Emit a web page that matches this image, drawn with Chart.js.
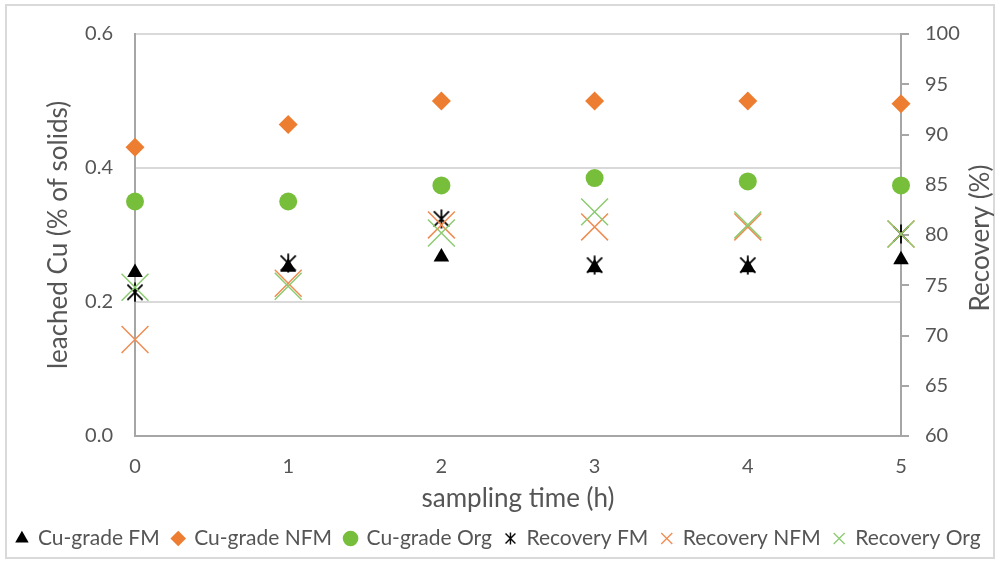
<!DOCTYPE html>
<html>
<head>
<meta charset="utf-8">
<script src="https://cdn.jsdelivr.net/npm/chart.js@4.4.1/dist/chart.umd.min.js"></script>
<style>
  html, body { margin: 0; padding: 0; background: #ffffff; }
  #wrap { position: relative; width: 997px; height: 563px; }
  canvas { display: block; }
</style>
</head>
<body>
<div id="wrap"><canvas id="c" width="997" height="563"></canvas></div>
<script>
// ---- data ----
const timeH = [0, 1, 2, 3, 4, 5];
const cuGradeFM  = [0.244, 0.252, 0.267, 0.251, 0.251, 0.263];
const cuGradeNFM = [0.431, 0.465, 0.500, 0.500, 0.500, 0.496];
const cuGradeOrg = [0.350, 0.350, 0.374, 0.385, 0.380, 0.374];
const recoveryFM  = [74.3, 77.2, 81.6, 77.0, 77.0, 80.1];
const recoveryNFM = [69.6, 75.2, 81.0, 80.8, 80.8, 80.1];
const recoveryOrg = [74.8, 74.9, 80.2, 82.3, 81.0, 80.1];
const seriesNames = ['Cu-grade FM', 'Cu-grade NFM', 'Cu-grade Org', 'Recovery FM', 'Recovery NFM', 'Recovery Org'];
const leftTicks = [0.0, 0.2, 0.4, 0.6];
const rightTicks = [60, 65, 70, 75, 80, 85, 90, 95, 100];
const xTitle = 'sampling time (h)';
const yLeftTitle = 'leached Cu (% of solids)';
const yRightTitle = 'Recovery (%)';

const FONT = 'Lato, "Open Sans", sans-serif';
const TXT = '#555555';

function toPts(vals) { return vals.map((v, i) => ({ x: timeH[i], y: v })); }

function asteriskCanvas(size, lw) {
  const cv = document.createElement('canvas');
  cv.width = size; cv.height = size;
  const g = cv.getContext('2d');
  g.strokeStyle = '#000'; g.lineWidth = lw; g.lineCap = 'butt';
  const m = size * 0.12, c = size / 2;
  g.beginPath();
  g.moveTo(m, m); g.lineTo(size - m, size - m);
  g.moveTo(size - m, m); g.lineTo(m, size - m);
  g.moveTo(c, 0.5); g.lineTo(c, size - 0.5);
  g.stroke();
  return cv;
}
const starBig = asteriskCanvas(20, 1.8);
const starSmall = asteriskCanvas(13, 1.4);

const frame = {
  id: 'frame',
  beforeDraw(chart) {
    const ctx = chart.ctx;
    ctx.save();
    ctx.strokeStyle = '#d9d9d9';
    ctx.lineWidth = 2;
    ctx.strokeRect(6, 5, 988, 553);
    ctx.restore();
  }
};

const rightTitle = {
  id: 'rightTitle',
  afterDraw(chart) {
    const ctx = chart.ctx;
    const ca = chart.chartArea;
    ctx.save();
    ctx.translate(981, (ca.top + ca.bottom) / 2 + 3);
    ctx.rotate(-Math.PI / 2);
    ctx.font = '26px ' + FONT;
    ctx.fillStyle = TXT;
    ctx.textAlign = 'center';
    ctx.textBaseline = 'middle';
    ctx.fillText(yRightTitle, 0, 0);
    ctx.restore();
  }
};

const datasets = [
  { label: seriesNames[0], data: toPts(cuGradeFM), yAxisID: 'y', pointStyle: 'triangle', pointRadius: 9,
    backgroundColor: '#000000', borderColor: '#000000', borderWidth: 0, order: 5 },
  { label: seriesNames[1], data: toPts(cuGradeNFM), yAxisID: 'y', pointStyle: 'rectRot', pointRadius: 9.5,
    backgroundColor: '#ED7D31', borderColor: '#ED7D31', borderWidth: 0, order: 4 },
  { label: seriesNames[2], data: toPts(cuGradeOrg), yAxisID: 'y', pointStyle: 'circle', pointRadius: 9,
    backgroundColor: '#77BF3B', borderColor: '#77BF3B', borderWidth: 0, order: 3 },
  { label: seriesNames[3], data: toPts(recoveryFM), yAxisID: 'y2', pointStyle: starBig, pointRadius: 10,
    backgroundColor: '#000000', borderColor: '#000000', borderWidth: 1.8, order: 2 },
  { label: seriesNames[4], data: toPts(recoveryNFM), yAxisID: 'y2', pointStyle: 'crossRot', pointRadius: 19,
    backgroundColor: '#F08C52', borderColor: '#F08C52', borderWidth: 1.5, order: 1 },
  { label: seriesNames[5], data: toPts(recoveryOrg), yAxisID: 'y2', pointStyle: 'crossRot', pointRadius: 19,
    backgroundColor: '#8CCB72', borderColor: '#8CCB72', borderWidth: 1.5, order: 0 }
];
datasets.forEach(d => { d.showLine = false; d.clip = false; d.pointHoverRadius = d.pointRadius; });

new Chart(document.getElementById('c'), {
  type: 'scatter',
  data: { datasets },
  options: {
    responsive: false,
    devicePixelRatio: 1,
    animation: false,
    layout: { padding: { left: 0, right: 0, top: 33, bottom: 4 } },
    plugins: {
      tooltip: { enabled: false },
      legend: {
        position: 'bottom',
        labels: {
          usePointStyle: true,
          boxWidth: 11,
          boxHeight: 11,
          padding: 13,
          color: TXT,
          font: { family: FONT, size: 21 },
          sort: (a, b) => a.datasetIndex - b.datasetIndex,
          generateLabels(chart) {
            const items = Chart.defaults.plugins.legend.labels.generateLabels(chart);
            items.forEach(it => {
              if (it.datasetIndex === 3) it.pointStyle = starSmall;
              if (it.datasetIndex >= 4) it.lineWidth = 1.3;
            });
            return items;
          }
        }
      }
    },
    scales: {
      x: {
        type: 'linear',
        min: 0, max: 5,
        afterBuildTicks(scale) { scale.ticks = timeH.map(v => ({ value: v })); },
        afterFit(scale) { scale.height = 79; },
        grid: { display: false, drawTicks: false },
        border: { display: true, color: '#a6a6a6', width: 2 },
        ticks: { color: TXT, font: { family: FONT, size: 20 }, padding: 19 },
        title: { display: true, text: xTitle, color: TXT, font: { family: FONT, size: 26 }, padding: { top: 0, bottom: 1 } }
      },
      y: {
        position: 'left',
        min: 0, max: 0.6,
        afterBuildTicks(scale) { scale.ticks = leftTicks.map(v => ({ value: v })); },
        afterFit(scale) { scale.width = 135; },
        grid: { color: '#d9d9d9', lineWidth: 2, drawTicks: false },
        border: { display: true, color: '#a6a6a6', width: 2 },
        ticks: { color: TXT, font: { family: FONT, size: 20 }, padding: 22, callback: v => Number(v).toFixed(1) },
        title: { display: true, text: yLeftTitle, color: TXT, font: { family: FONT, size: 26 }, padding: { top: 43, bottom: 0 } }
      },
      y2: {
        position: 'right',
        min: 60, max: 100,
        afterBuildTicks(scale) { scale.ticks = rightTicks.map(v => ({ value: v })); },
        afterFit(scale) { scale.width = 96; },
        grid: { drawOnChartArea: false, drawTicks: true, tickLength: 8, color: '#a6a6a6', tickColor: '#a6a6a6', lineWidth: 2 },
        border: { display: true, color: '#a6a6a6', width: 2 },
        ticks: { color: TXT, font: { family: FONT, size: 20 }, padding: 16 }
      }
    }
  },
  plugins: [frame, rightTitle]
});
</script>
</body>
</html>
